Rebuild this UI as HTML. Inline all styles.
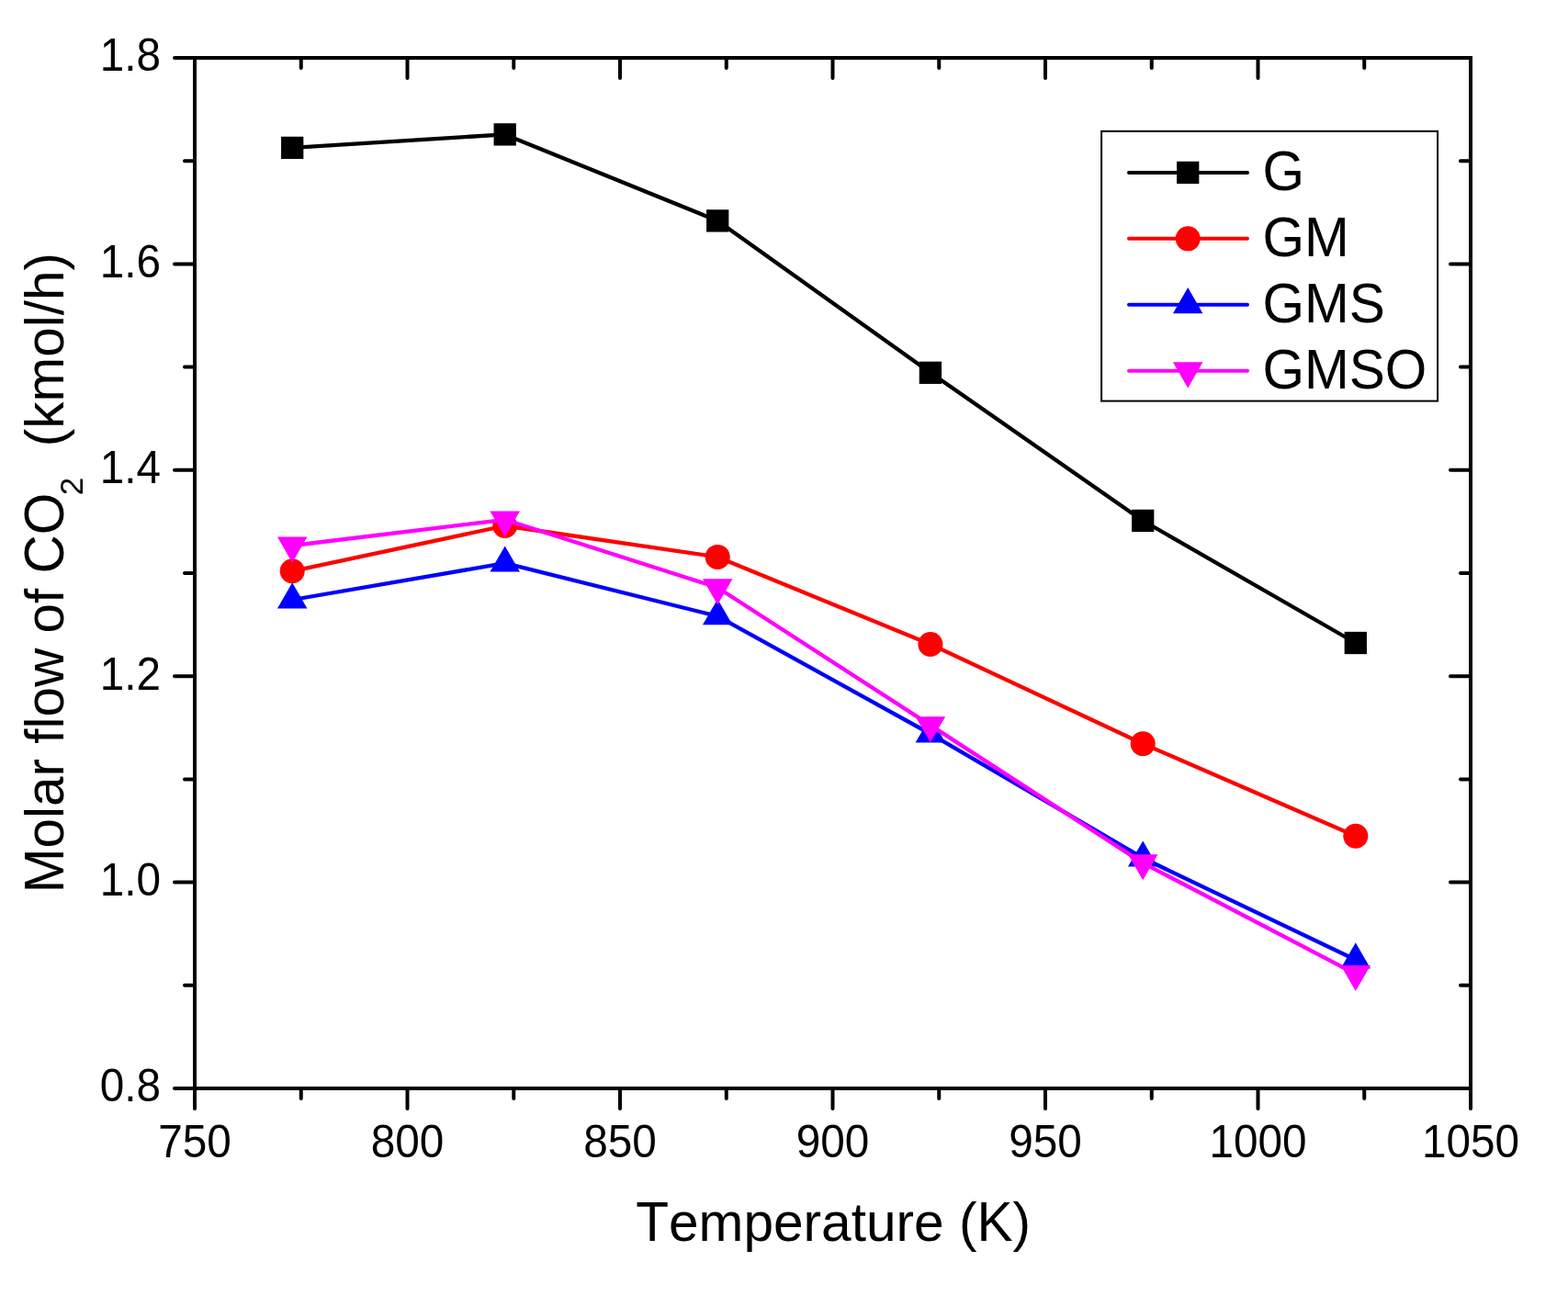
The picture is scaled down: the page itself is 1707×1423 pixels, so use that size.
<!DOCTYPE html>
<html><head><meta charset="utf-8"><title>Molar flow of CO2 vs Temperature</title>
<style>
html,body{margin:0;padding:0;background:#fff;}
body{width:1707px;height:1423px;overflow:hidden;}
svg{display:block;}
.t{font-family:"Liberation Sans",Arial,sans-serif;fill:#000;font-kerning:none;}
</style></head><body>
<svg width="1707" height="1423" viewBox="0 0 1707 1423">
<path d="M212.00,1185v22 M212.00,63v22 M327.75,1185v11 M327.75,63v11 M443.50,1185v22 M443.50,63v22 M559.25,1185v11 M559.25,63v11 M675.00,1185v22 M675.00,63v22 M790.75,1185v11 M790.75,63v11 M906.50,1185v22 M906.50,63v22 M1022.25,1185v11 M1022.25,63v11 M1138.00,1185v22 M1138.00,63v22 M1253.75,1185v11 M1253.75,63v11 M1369.50,1185v22 M1369.50,63v22 M1485.25,1185v11 M1485.25,63v11 M1601.00,1185v22 M1601.00,63v22 M212,1185.00h-22 M1601,1185.00h-22 M212,1072.80h-11 M1601,1072.80h-11 M212,960.60h-22 M1601,960.60h-22 M212,848.40h-11 M1601,848.40h-11 M212,736.20h-22 M1601,736.20h-22 M212,624.00h-11 M1601,624.00h-11 M212,511.80h-22 M1601,511.80h-22 M212,399.60h-11 M1601,399.60h-11 M212,287.40h-22 M1601,287.40h-22 M212,175.20h-11 M1601,175.20h-11 M212,63.00h-22 M1601,63.00h-22" stroke="#000" stroke-width="4" stroke-linecap="round" fill="none"/>
<rect x="212" y="63" width="1389" height="1122" fill="none" stroke="#000" stroke-width="4"/>
<g class="t">
<text transform="translate(212.00,1260.00) scale(1,1.03)" text-anchor="middle" font-size="47.7">750</text>
<text transform="translate(443.50,1260.00) scale(1,1.03)" text-anchor="middle" font-size="47.7">800</text>
<text transform="translate(675.00,1260.00) scale(1,1.03)" text-anchor="middle" font-size="47.7">850</text>
<text transform="translate(906.50,1260.00) scale(1,1.03)" text-anchor="middle" font-size="47.7">900</text>
<text transform="translate(1138.00,1260.00) scale(1,1.03)" text-anchor="middle" font-size="47.7">950</text>
<text transform="translate(1369.50,1260.00) scale(1,1.03)" text-anchor="middle" font-size="47.7">1000</text>
<text transform="translate(1601.00,1260.00) scale(1,1.03)" text-anchor="middle" font-size="47.7">1050</text>
<text transform="translate(175.00,1199.30) scale(1,1.03)" text-anchor="end" font-size="47.7">0.8</text>
<text transform="translate(175.00,974.90) scale(1,1.03)" text-anchor="end" font-size="47.7">1.0</text>
<text transform="translate(175.00,750.50) scale(1,1.03)" text-anchor="end" font-size="47.7">1.2</text>
<text transform="translate(175.00,526.10) scale(1,1.03)" text-anchor="end" font-size="47.7">1.4</text>
<text transform="translate(175.00,301.70) scale(1,1.03)" text-anchor="end" font-size="47.7">1.6</text>
<text transform="translate(175.00,77.30) scale(1,1.03)" text-anchor="end" font-size="47.7">1.8</text>
<text transform="translate(692.20,1350.90) scale(1,1.04)" font-size="58.6">T</text><text transform="translate(728.00,1350.90)" font-size="58.6">emperature (</text><text transform="translate(1063.46,1350.90) scale(1,1.04)" font-size="58.6">K</text><text transform="translate(1102.54,1350.90)" font-size="58.6">)</text>
<text transform="translate(69.40,972.30) rotate(-90) scale(1,1.04)" font-size="58.5">M</text><text transform="translate(69.40,923.57) rotate(-90)" font-size="58.5">olar flow of </text><text transform="translate(69.40,624.44) rotate(-90) scale(1,1.04)" font-size="58.5">CO</text>
<text transform="translate(90.40,539.30) rotate(-90)" font-size="35">2</text>
<text transform="translate(69.40,486.20) rotate(-90)" font-size="58.5">(kmol/h)</text>
</g>
<polyline points="318.20,160.90 549.70,146.40 781.20,240.40 1012.90,405.80 1244.20,566.90 1475.80,700.00" fill="none" stroke="#000" stroke-width="4.3" stroke-linejoin="round"/>
<rect x="306.05" y="148.75" width="24.3" height="24.3" fill="#000"/>
<rect x="537.55" y="134.25" width="24.3" height="24.3" fill="#000"/>
<rect x="769.05" y="228.25" width="24.3" height="24.3" fill="#000"/>
<rect x="1000.75" y="393.65" width="24.3" height="24.3" fill="#000"/>
<rect x="1232.05" y="554.75" width="24.3" height="24.3" fill="#000"/>
<rect x="1463.65" y="687.85" width="24.3" height="24.3" fill="#000"/>
<polyline points="318.20,621.80 549.70,572.50 781.20,606.40 1012.90,701.50 1244.20,809.70 1475.80,910.20" fill="none" stroke="#f00" stroke-width="4.3" stroke-linejoin="round"/>
<circle cx="318.20" cy="621.80" r="13.5" fill="#f00"/>
<circle cx="549.70" cy="572.50" r="13.5" fill="#f00"/>
<circle cx="781.20" cy="606.40" r="13.5" fill="#f00"/>
<circle cx="1012.90" cy="701.50" r="13.5" fill="#f00"/>
<circle cx="1244.20" cy="809.70" r="13.5" fill="#f00"/>
<circle cx="1475.80" cy="910.20" r="13.5" fill="#f00"/>
<polyline points="318.20,653.00 549.70,613.20 781.20,670.90 1012.90,799.00 1244.20,934.20 1475.80,1045.00" fill="none" stroke="#00f" stroke-width="4.3" stroke-linejoin="round"/>
<polygon points="318.20,634.24 334.45,662.38 301.95,662.38" fill="#00f"/>
<polygon points="549.70,594.44 565.95,622.58 533.45,622.58" fill="#00f"/>
<polygon points="781.20,652.14 797.45,680.28 764.95,680.28" fill="#00f"/>
<polygon points="1012.90,780.24 1029.15,808.38 996.65,808.38" fill="#00f"/>
<polygon points="1244.20,915.44 1260.45,943.58 1227.95,943.58" fill="#00f"/>
<polygon points="1475.80,1026.24 1492.05,1054.38 1459.55,1054.38" fill="#00f"/>
<polyline points="318.20,594.00 549.70,565.80 781.20,639.70 1012.90,789.60 1244.20,939.60 1475.80,1060.30" fill="none" stroke="#f0f" stroke-width="4.3" stroke-linejoin="round"/>
<polygon points="318.20,612.76 334.45,584.62 301.95,584.62" fill="#f0f"/>
<polygon points="549.70,584.56 565.95,556.42 533.45,556.42" fill="#f0f"/>
<polygon points="781.20,658.46 797.45,630.32 764.95,630.32" fill="#f0f"/>
<polygon points="1012.90,808.36 1029.15,780.22 996.65,780.22" fill="#f0f"/>
<polygon points="1244.20,958.36 1260.45,930.22 1227.95,930.22" fill="#f0f"/>
<polygon points="1475.80,1079.06 1492.05,1050.92 1459.55,1050.92" fill="#f0f"/>
<rect x="1199.1" y="142.9" width="366" height="293.7" fill="#fff" stroke="#000" stroke-width="2"/>
<g class="t">
<text transform="translate(1374.60,207.20) scale(1,1.04)" font-size="58.5">G</text>
<text transform="translate(1374.60,279.13) scale(1,1.04)" font-size="58.5">GM</text>
<text transform="translate(1374.60,351.06) scale(1,1.04)" font-size="58.5">GMS</text>
<text transform="translate(1374.60,422.99) scale(1,1.04)" font-size="58.5">GMSO</text>
</g>
<line x1="1229" y1="187.90" x2="1358" y2="187.90" stroke="#000" stroke-width="4.0" stroke-linecap="round"/>
<rect x="1281.05" y="175.75" width="24.3" height="24.3" fill="#000"/>
<line x1="1229" y1="259.83" x2="1358" y2="259.83" stroke="#f00" stroke-width="4.0" stroke-linecap="round"/>
<circle cx="1293.20" cy="259.83" r="13.5" fill="#f00"/>
<line x1="1229" y1="331.76" x2="1358" y2="331.76" stroke="#00f" stroke-width="4.0" stroke-linecap="round"/>
<polygon points="1293.20,313.00 1309.45,341.14 1276.95,341.14" fill="#00f"/>
<line x1="1229" y1="403.69" x2="1358" y2="403.69" stroke="#f0f" stroke-width="4.0" stroke-linecap="round"/>
<polygon points="1293.20,422.45 1309.45,394.31 1276.95,394.31" fill="#f0f"/>
</svg>
</body></html>
